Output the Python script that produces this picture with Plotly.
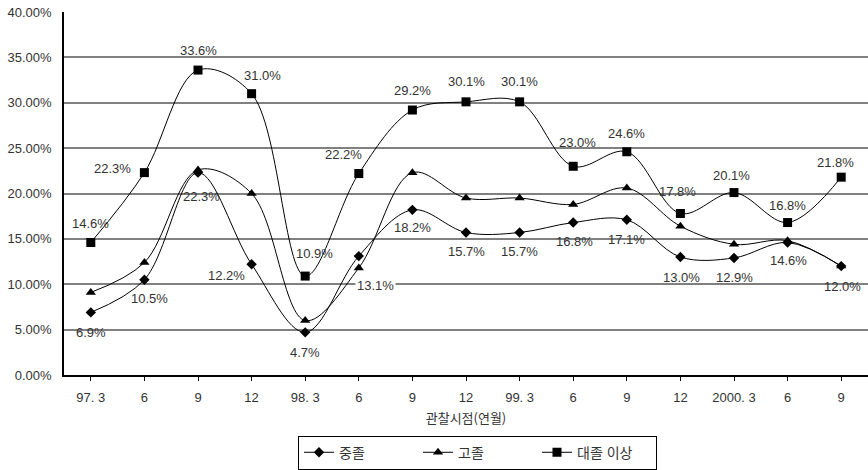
import plotly.graph_objects as go

# Observation points (year.month)
periods = ["97. 3", "6", "9", "12", "98. 3", "6", "9", "12",
           "99. 3", "6", "9", "12", "2000. 3", "6", "9"]

# Rates (%) by education level
middle_school = [6.9, 10.5, 22.3, 12.2, 4.7, 13.1, 18.2, 15.7,
                 15.7, 16.8, 17.1, 13.0, 12.9, 14.6, 12.0]
high_school = [9.1, 12.4, 22.6, 20.0, 6.0, 11.8, 22.3, 19.5,
               19.5, 18.8, 20.6, 16.4, 14.4, 14.8, 12.0]
college_plus = [14.6, 22.3, 33.6, 31.0, 10.9, 22.2, 29.2, 30.1,
                30.1, 23.0, 24.6, 17.8, 20.1, 16.8, 21.8]

series_names = ["중졸", "고졸", "대졸 이상"]

y_ticks = [0, 5, 10, 15, 20, 25, 30, 35, 40]
y_tick_text = [f"{t:.2f}%" for t in y_ticks]

# Label offsets in pixels (dx, dy) for the value labels
middle_offsets = [(0, -20), (5, -19), (3, -24), (-25, -11), (0, -20),
                  (17, -29), (0, -18), (0, -19), (0, -19), (1, -19),
                  (0, -20), (1, -20), (0, -20), (1, -18), (1, -20)]
college_offsets = [(0, 19), (-32, 4), (0, 20), (11, 18), (9, 23),
                   (-15, 19), (0, 20), (0, 20), (0, 20), (4, 24),
                   (0, 18), (-3, 22), (-3, 17), (0, 17), (-6, 15)]

xs = list(range(len(periods)))
FONT = "Liberation Sans, Noto Sans CJK KR, sans-serif"
TXT = "#333333"

fig = go.Figure()
styles = [("diamond", 8), ("triangle-up", 9), ("square", 9)]
for name, vals, (sym, size) in zip(series_names,
                                    [middle_school, high_school, college_plus],
                                    styles):
    fig.add_trace(go.Scatter(
        x=xs, y=vals, name=name, mode="lines+markers",
        line=dict(color="black", width=1, shape="spline", smoothing=1.0),
        marker=dict(symbol=sym, size=size, color="black"),
        cliponaxis=False,
    ))

annotations = []
for vals, offs in [(middle_school, middle_offsets), (college_plus, college_offsets)]:
    for i, (v, (dx, dy)) in enumerate(zip(vals, offs)):
        bg = "white" if (vals is middle_school and i == 5) else "rgba(0,0,0,0)"
        annotations.append(dict(
            x=i, y=v, text=f"{v:.1f}%", showarrow=False,
            xshift=dx, yshift=dy, bgcolor=bg, borderpad=1,
            font=dict(family=FONT, size=13, color=TXT),
        ))

fig.update_layout(
    width=868, height=470,
    margin=dict(l=64, r=0, t=12, b=93),
    paper_bgcolor="white", plot_bgcolor="white",
    font=dict(family=FONT, size=13, color=TXT),
    showlegend=True,
    legend=dict(
        orientation="h", x=(298 - 64) / 804, xanchor="left",
        y=(377 - 438) / 365, yanchor="top",
        bordercolor="black", borderwidth=1, bgcolor="white",
        font=dict(family=FONT, size=14, color=TXT),
        entrywidth=74, entrywidthmode="pixels",
        itemwidth=30,
    ),
    annotations=annotations,
)

fig.update_xaxes(
    range=[-0.5, len(periods) - 0.5],
    tickmode="array", tickvals=xs, ticktext=periods,
    tickson="boundaries", ticks="outside", ticklen=4, tickcolor="black",
    showline=True, linecolor="black", linewidth=1.5,
    showgrid=False, zeroline=False, ticklabelstandoff=6,
    tickfont=dict(family=FONT, size=13, color=TXT),
    title=dict(text="관찰시점(연월)", standoff=10,
               font=dict(family="Noto Sans CJK KR", size=13, color=TXT)),
)
fig.update_yaxes(
    range=[0, 40], tickmode="array", tickvals=y_ticks, ticktext=y_tick_text,
    showline=True, linecolor="black", linewidth=1.5,
    showgrid=True, gridcolor="#808080", gridwidth=1.5,
    zeroline=False, ticks="", ticklabelstandoff=8,
    tickfont=dict(family=FONT, size=13, color=TXT),
)

fig.write_html("out.html")
